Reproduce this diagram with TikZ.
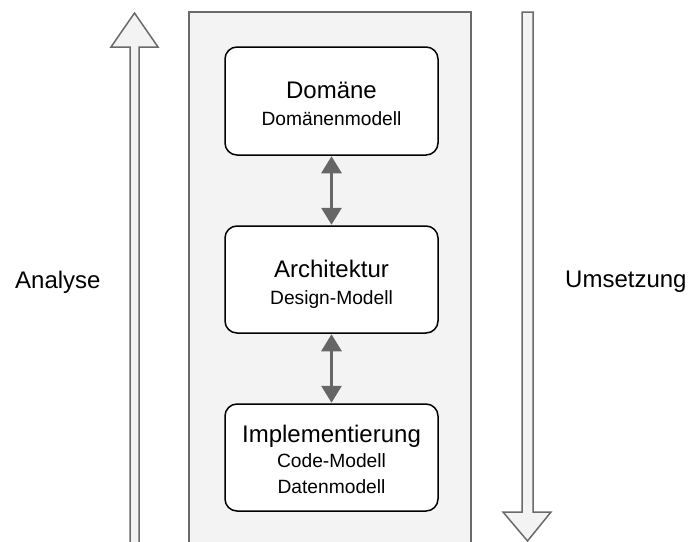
\documentclass[tikz,border=0pt]{standalone}
\usepackage{fontspec}
\setmainfont{Liberation Sans}
\usetikzlibrary{arrows.meta}
\definecolor{panelfill}{HTML}{F3F3F3}
\definecolor{edgegray}{HTML}{6A6A6A}
\definecolor{darrow}{HTML}{666666}
\tikzset{
  panel/.style={draw=edgegray, fill=panelfill, line width=1.5pt},
  bigarrow/.style={draw=edgegray, fill=panelfill, line width=1.5pt, line join=miter},
  box/.style={draw=black, fill=white, line width=1.5pt, rounded corners=12pt,
    minimum width=213pt, inner sep=0pt},
  title/.style={anchor=base, inner sep=0pt, font=\fontsize{24}{28}\selectfont},
  sub/.style={anchor=base, inner sep=0pt, font=\fontsize{19.2}{22}\selectfont},
  side/.style={anchor=base west, inner sep=0pt, font=\fontsize{24}{28}\selectfont},
  link/.style={draw=darrow, line width=3pt,
    {Triangle[width=20pt,length=17pt]}-{Triangle[width=20pt,length=17pt]}, shorten <=0.5pt, shorten >=0.5pt}
}
\begin{document}
\begin{tikzpicture}[x=1pt, y=-1pt]
\useasboundingbox (0,0) rectangle (690,541);
\begin{scope}
\clip (0,0) rectangle (690,541);
% panel
\draw[panel] (189,12) rectangle (471,560);
% left up arrow
\draw[bigarrow] (130,560) -- (130,47) -- (111,47) -- (134.5,13) -- (158,47) -- (139,47) -- (139,560);
% right down arrow
\draw[bigarrow] (522,12) -- (533,12) -- (533,512) -- (551,512) -- (527.5,541) -- (503,512) -- (522,512) -- cycle;
\end{scope}
% boxes
\node[box, minimum height=108pt] (dom) at (331.5,101) {};
\node[box, minimum height=107pt] (arch) at (331.5,279.5) {};
\node[box, minimum height=107pt] (impl) at (331.5,457.5) {};
% texts
\node[title] (domt) at (331.5,98) {Domäne};
\node[sub] (doms) at (331.5,125) {Domänenmodell};
\node[title] (archt) at (331.5,277) {Architektur};
\node[sub] (archs) at (331.5,304) {Design-Modell};
\node[title] (implt) at (331.5,442) {Implementierung};
\node[sub] (impls) at (331.5,467) {Code-Modell};
\node[sub] (impld) at (331.5,493) {Datenmodell};
% side labels
\node[side] (ana) at (15,288) {Analyse};
\node[side] (ums) at (565,287) {Umsetzung};
% links
\draw[link] (dom.south) -- (arch.north);
\draw[link] (arch.south) -- (impl.north);
\end{tikzpicture}
\end{document}
